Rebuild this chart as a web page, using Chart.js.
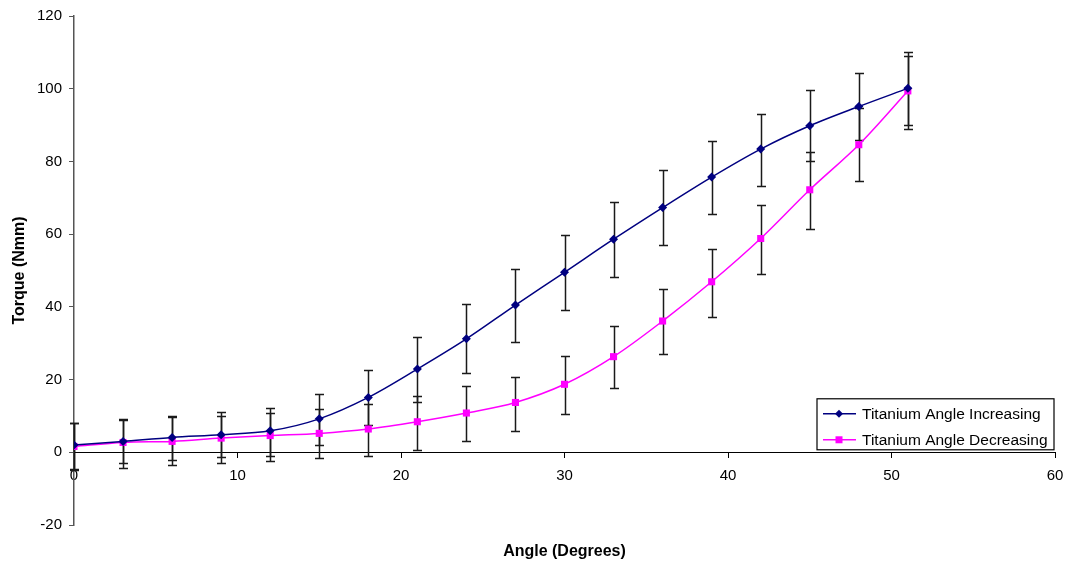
<!DOCTYPE html>
<html>
<head>
<meta charset="utf-8">
<script src="https://cdn.jsdelivr.net/npm/chart.js@4.4.1/dist/chart.umd.min.js"></script>
<style>
  html, body { margin: 0; padding: 0; background: #fff; }
  #wrap { width: 1069px; height: 566px; }
</style>
</head>
<body>
<div id="wrap"><canvas id="chart" width="1069" height="566"></canvas></div>
<script>
// angle (degrees)
const angles = [0, 3, 6, 9, 12, 15, 18, 21, 24, 27, 30, 33, 36, 39, 42, 45, 48, 51];

// Titanium angle increasing
const increasing = [2.0, 3.0, 4.1, 4.8, 5.9, 9.2, 15.1, 22.9, 31.2, 40.5, 49.5, 58.6, 67.3, 75.7, 83.4, 89.8, 95.1, 100.1];
const incHigh = [8.1, 9.2, 10.1, 11.0, 12.2, 16.0, 22.7, 31.8, 40.9, 50.5, 59.9, 68.8, 77.7, 85.6, 93.1, 99.7, 104.4, 110.0];
const incLow = [-4.6, -3.0, -2.2, -1.2, -0.9, 2.0, 7.5, 13.7, 21.8, 30.4, 39.2, 48.1, 57.0, 65.6, 73.3, 80.0, 85.8, 90.0];

// Titanium angle decreasing
const decreasing = [1.6, 2.7, 3.0, 3.9, 4.6, 5.2, 6.4, 8.4, 10.8, 13.7, 18.7, 26.3, 36.1, 46.9, 58.8, 72.2, 84.6, 99.4];
const decHigh = [8.0, 9.0, 9.6, 10.1, 10.8, 11.8, 13.3, 15.5, 18.1, 20.8, 26.4, 34.7, 44.8, 55.9, 67.9, 82.7, 94.6, 109.0];
const decLow = [-4.8, -4.3, -3.6, -2.9, -2.3, -1.6, -0.9, 0.7, 3.1, 5.8, 10.5, 17.7, 26.9, 37.2, 48.9, 61.3, 74.6, 88.9];

const FONT = "'Liberation Sans', Arial, sans-serif";

const toPoints = (vals) => vals.map((v, i) => ({ x: angles[i], y: v }));

// draws the vertical error bars with caps, under the markers
const errorBars = {
    id: 'errorBars',
    beforeDatasetsDraw(chart) {
        const { ctx, scales: { x, y } } = chart;
        ctx.save();
        ctx.strokeStyle = '#1a1a1a';
        ctx.lineWidth = 1.5;
        chart.data.datasets.forEach(ds => {
            ds.data.forEach((p, i) => {
                const px = Math.round(x.getPixelForValue(p.x)) + 0.5;
                const top = Math.round(y.getPixelForValue(ds.errHigh[i])) + 0.5;
                const bot = Math.round(y.getPixelForValue(ds.errLow[i])) + 0.5;
                ctx.beginPath();
                ctx.moveTo(px, top); ctx.lineTo(px, bot);
                ctx.moveTo(px - 4.5, top); ctx.lineTo(px + 4.5, top);
                ctx.moveTo(px - 4.5, bot); ctx.lineTo(px + 4.5, bot);
                ctx.stroke();
            });
        });
        ctx.restore();
    }
};

// boxed legend in the lower right corner of the plot
const boxLegend = {
    id: 'boxLegend',
    afterDraw(chart) {
        const { ctx, chartArea, scales: { y } } = chart;
        const right = chartArea.right - 1;
        const bottom = y.getPixelForValue(0) - 2.5;
        const w = 237, h = 51;
        const left = right - w, top = bottom - h;
        ctx.save();
        ctx.fillStyle = '#fff';
        ctx.fillRect(left, top, w, h);
        ctx.strokeStyle = '#000';
        ctx.lineWidth = 1.2;
        ctx.strokeRect(left, top, w, h);
        ctx.font = '15.5px ' + FONT;
        ctx.textBaseline = 'middle';
        chart.data.datasets.forEach((ds, i) => {
            const cy = top + 15 + i * 26;
            ctx.strokeStyle = ds.borderColor;
            ctx.lineWidth = 1.5;
            ctx.beginPath();
            ctx.moveTo(left + 6, cy); ctx.lineTo(left + 39, cy);
            ctx.stroke();
            ctx.fillStyle = ds.backgroundColor;
            const cx = left + 22;
            ctx.beginPath();
            if (ds.pointStyle === 'rectRot') {
                ctx.moveTo(cx, cy - 4); ctx.lineTo(cx + 4, cy);
                ctx.lineTo(cx, cy + 4); ctx.lineTo(cx - 4, cy);
                ctx.closePath();
            } else {
                ctx.rect(cx - 3.5, cy - 3.5, 7, 7);
            }
            ctx.fill();
            ctx.fillStyle = '#000';
            ctx.fillText(ds.label, left + 45, cy + 1);
        });
        ctx.restore();
    }
};

new Chart(document.getElementById('chart'), {
    type: 'line',
    data: {
        datasets: [{
            label: 'Titanium Angle Increasing',
            data: toPoints(increasing),
            errHigh: incHigh,
            errLow: incLow,
            borderColor: '#000080',
            backgroundColor: '#000080',
            borderWidth: 1.5,
            pointStyle: 'rectRot',
            pointRadius: 4.5,
            pointBorderWidth: 0,
            tension: 0.33
        }, {
            label: 'Titanium Angle Decreasing',
            data: toPoints(decreasing),
            errHigh: decHigh,
            errLow: decLow,
            borderColor: '#ff00ff',
            backgroundColor: '#ff00ff',
            borderWidth: 1.5,
            pointStyle: 'rect',
            pointRadius: 5,
            pointBorderWidth: 0,
            tension: 0.33
        }]
    },
    options: {
        responsive: false,
        animation: false,
        layout: { padding: { left: 0, right: 14, top: 14, bottom: 0 } },
        plugins: {
            legend: { display: false },
            tooltip: { enabled: false }
        },
        scales: {
            x: {
                type: 'linear',
                position: { y: 0 },
                min: 0,
                max: 60,
                ticks: { stepSize: 10, color: '#000', font: { family: FONT, size: 15 }, padding: 10, maxRotation: 0 },
                grid: { drawOnChartArea: false, drawTicks: true, tickLength: 5, color: '#000' },
                border: { color: '#000', width: 1 },
                // labels may hang past the plot edges, like the original
                afterFit(scale) { scale.paddingLeft = 0; scale.paddingRight = 0; }
            },
            x2: {
                type: 'linear',
                position: 'bottom',
                min: 0,
                max: 60,
                ticks: { display: false },
                grid: { display: false },
                border: { display: false },
                title: {
                    display: true,
                    text: 'Angle (Degrees)',
                    color: '#000',
                    font: { family: FONT, size: 16, weight: 'bold' },
                    padding: { top: 0, bottom: 5 }
                },
                afterFit(scale) { scale.height = 41; }
            },
            y: {
                min: -20,
                max: 120,
                ticks: { stepSize: 20, color: '#000', font: { family: FONT, size: 15 }, padding: 7 },
                grid: { drawOnChartArea: false, drawTicks: true, tickLength: 5, color: '#555' },
                border: { color: '#555', width: 1.5 },
                title: {
                    display: true,
                    text: 'Torque (Nmm)',
                    color: '#000',
                    font: { family: FONT, size: 16, weight: 'bold' },
                    padding: { top: 10, bottom: 0 }
                },
                afterFit(scale) { scale.width = 74; }
            }
        }
    },
    plugins: [errorBars, boxLegend]
});
</script>
</body>
</html>
